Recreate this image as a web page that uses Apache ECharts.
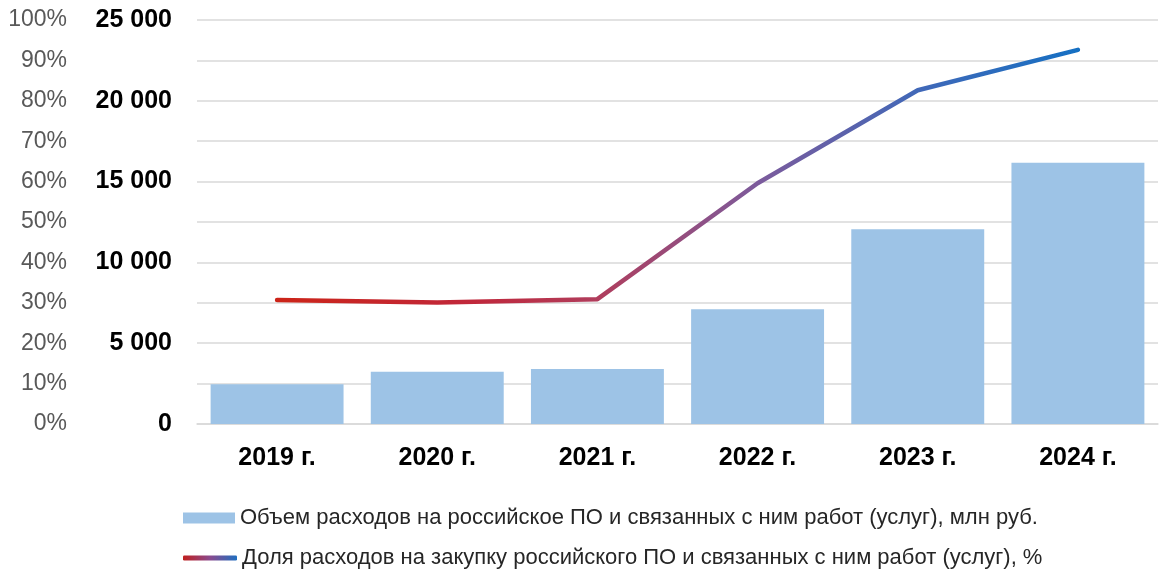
<!DOCTYPE html>
<html>
<head>
<meta charset="utf-8">
<script src="https://cdn.jsdelivr.net/npm/echarts@6/dist/echarts.min.js"></script>
<style>
html,body{margin:0;padding:0;background:#fff;}
#chart{width:1166px;height:569px;}
</style>
</head>
<body>
<div id="chart"></div>
<script>
const categories = ['2019 г.', '2020 г.', '2021 г.', '2022 г.', '2023 г.', '2024 г.'];
const spendingValues = [2460, 3240, 3400, 7100, 12050, 16170];
const shareValues = [30.7, 30.1, 30.9, 59.6, 82.6, 92.6];
const percentTickLabels = ['0%', '10%', '20%', '30%', '40%', '50%', '60%', '70%', '80%', '90%', '100%'];
const amountTickLabels = ['0', '5 000', '10 000', '15 000', '20 000', '25 000'];
const barName = 'Объем расходов на российское ПО и связанных с ним работ (услуг), млн руб.';
const lineName = 'Доля расходов на закупку российского ПО и связанных с ним работ (услуг), %';

const FONT = '"Liberation Sans", Arial, sans-serif';
const chart = echarts.init(document.getElementById('chart'), null, {renderer: 'canvas'});

const lineGradient = new echarts.graphic.LinearGradient(0, 0, 1, 0, [
  {offset: 0, color: '#cc2418'},
  {offset: 0.25, color: '#c0283c'},
  {offset: 0.4, color: '#b03d5c'},
  {offset: 0.6, color: '#7c5b9c'},
  {offset: 0.8, color: '#4068b8'},
  {offset: 1, color: '#1570c3'}
]);
const legendGradient = new echarts.graphic.LinearGradient(0, 0, 1, 0, [
  {offset: 0, color: '#c0201e'},
  {offset: 0.5, color: '#8a4a8e'},
  {offset: 1, color: '#1f6fc0'}
]);

chart.setOption({
  animation: false,
  backgroundColor: '#fff',
  grid: {left: 197, right: 8, top: 20, bottom: 145},
  legend: [
    {
      data: [barName],
      orient: 'vertical',
      left: 178, top: 502,
      itemWidth: 52, itemHeight: 11,
      icon: 'rect',
      textStyle: {fontFamily: FONT, fontSize: 22, color: '#262626'}
    },
    {
      data: [{name: lineName, icon: 'roundRect', itemStyle: {color: legendGradient, borderWidth: 0}}],
      orient: 'vertical',
      left: 178, top: 542,
      itemWidth: 54, itemHeight: 5,
      textStyle: {fontFamily: FONT, fontSize: 22, color: '#262626'}
    }
  ],
  xAxis: {
    type: 'category',
    data: categories,
    axisLine: {lineStyle: {color: '#d9d9d9', width: 1.5}},
    axisTick: {show: false},
    axisLabel: {fontFamily: FONT, fontSize: 25, fontWeight: 'bold', color: '#000', margin: 22}
  },
  yAxis: [
    {
      type: 'value', min: 0, max: 100, interval: 10, position: 'left', offset: 122,
      axisLine: {show: false}, axisTick: {show: false},
      axisLabel: {fontFamily: FONT, fontSize: 23, color: '#595959', margin: 8,
        formatter: (v) => percentTickLabels[Math.round(v / 10)]},
      splitLine: {show: true, lineStyle: {color: '#d9d9d9', width: 1.5}}
    },
    {
      type: 'value', min: 0, max: 25000, interval: 5000, position: 'left',
      axisLine: {show: false}, axisTick: {show: false},
      axisLabel: {fontFamily: FONT, fontSize: 25, fontWeight: 'bold', color: '#000', margin: 25,
        formatter: (v) => amountTickLabels[Math.round(v / 5000)]},
      splitLine: {show: false}
    }
  ],
  series: [
    {
      name: barName, type: 'bar', yAxisIndex: 1, data: spendingValues,
      barCategoryGap: '17%',
      itemStyle: {color: '#9dc3e6'}
    },
    {
      name: lineName, type: 'line', yAxisIndex: 0, data: shareValues,
      symbol: 'none', smooth: false,
      lineStyle: {width: 4.5, color: lineGradient, cap: 'round', join: 'round'},
      itemStyle: {color: '#8a4a8e'}
    }
  ]
});
</script>
</body>
</html>
